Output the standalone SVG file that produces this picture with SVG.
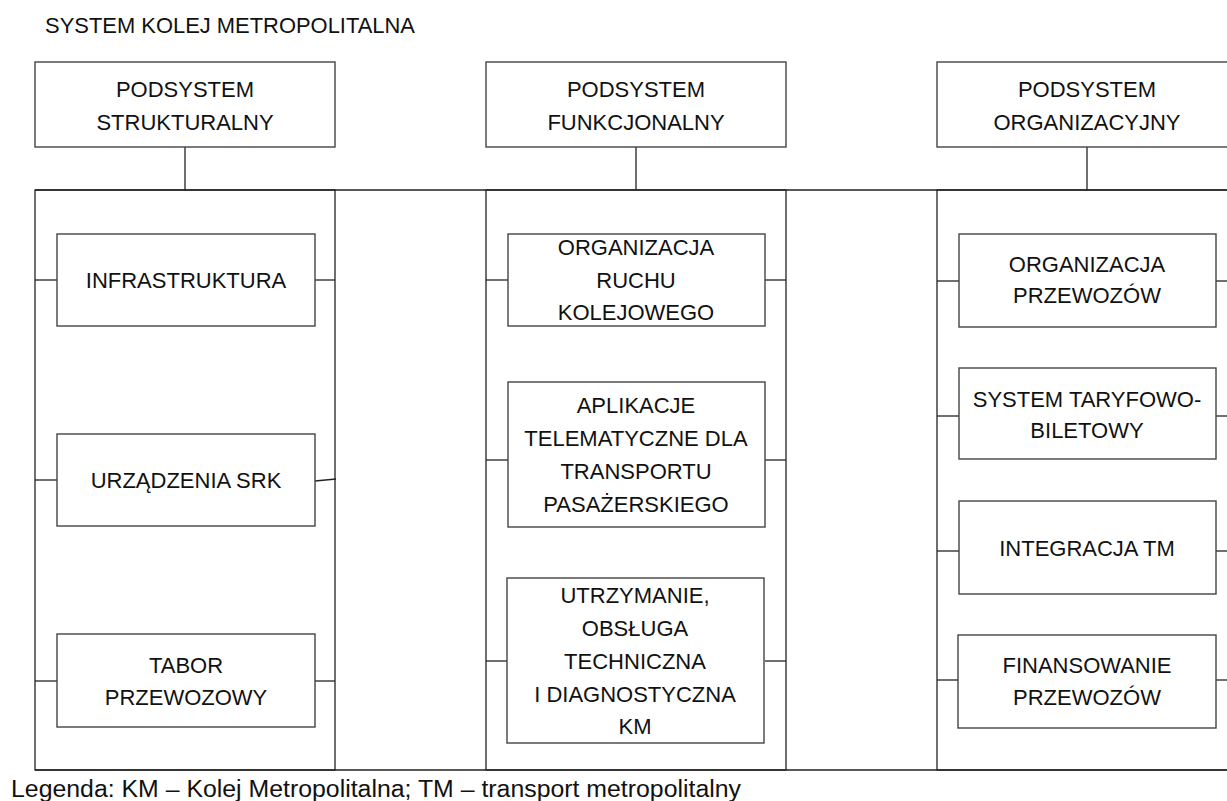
<svg xmlns="http://www.w3.org/2000/svg" width="1227" height="801" viewBox="0 0 1227 801">
  <style>
    text { font-family: "Liberation Sans", Arial, sans-serif; fill: #111; }
    .t { font-size: 22px; text-anchor: middle; }
    .title { font-size: 21.5px; }
    .legend { font-size: 23px; }
    .box { fill: #fff; stroke: #444; stroke-width: 1.4; }
    .col { fill: none; stroke: #222; stroke-width: 1.3; }
    .ln { fill: none; stroke: #222; stroke-width: 1.3; }
  </style>

  <rect width="1227" height="801" fill="#fff"/>

  <text class="title" x="45" y="33" textLength="370" lengthAdjust="spacingAndGlyphs">SYSTEM KOLEJ METROPOLITALNA</text>

  <!-- connectors: subsystem headers to columns, columns joined top and bottom, stubs to elements -->
  <g id="connectors">
    <line class="ln" x1="185" y1="147" x2="185" y2="190"/>
    <line class="ln" x1="636" y1="147" x2="636" y2="190"/>
    <line class="ln" x1="1087" y1="147" x2="1087" y2="190"/>
    <line class="ln" x1="35" y1="190" x2="1227" y2="190"/>
    <line class="ln" x1="35" y1="770" x2="1227" y2="770"/>

    <!-- structural column stubs -->
    <line class="ln" x1="35" y1="280" x2="57" y2="280"/>
    <line class="ln" x1="315" y1="280" x2="335" y2="280"/>
    <line class="ln" x1="35" y1="480" x2="57" y2="480"/>
    <line class="ln" x1="315" y1="481" x2="336" y2="479"/>
    <line class="ln" x1="35" y1="681" x2="57" y2="681"/>
    <line class="ln" x1="315" y1="681" x2="335" y2="681"/>

    <!-- functional column stubs -->
    <line class="ln" x1="486" y1="280" x2="508" y2="280"/>
    <line class="ln" x1="765" y1="280" x2="786" y2="280"/>
    <line class="ln" x1="486" y1="460" x2="508" y2="460"/>
    <line class="ln" x1="765" y1="460" x2="786" y2="460"/>
    <line class="ln" x1="486" y1="661" x2="507" y2="661"/>
    <line class="ln" x1="765" y1="661" x2="786" y2="661"/>

    <!-- organisational column stubs -->
    <line class="ln" x1="937" y1="281" x2="959" y2="281"/>
    <line class="ln" x1="1216" y1="281" x2="1227" y2="281"/>
    <line class="ln" x1="937" y1="416" x2="959" y2="416"/>
    <line class="ln" x1="1216" y1="416" x2="1227" y2="416"/>
    <line class="ln" x1="937" y1="551" x2="959" y2="551"/>
    <line class="ln" x1="1216" y1="551" x2="1227" y2="551"/>
    <line class="ln" x1="937" y1="680" x2="959" y2="680"/>
    <line class="ln" x1="1216" y1="680" x2="1227" y2="680"/>
  </g>

  <!-- column frames -->
  <g id="col-strukturalny"><rect class="col" x="35" y="190" width="300" height="580"/></g>
  <g id="col-funkcjonalny"><rect class="col" x="486" y="190" width="300" height="580"/></g>
  <g id="col-organizacyjny"><rect class="col" x="937" y="190" width="300" height="580"/></g>

  <!-- subsystem headers -->
  <g id="podsystem-strukturalny">
    <rect class="box" x="35" y="62" width="300" height="85"/>
    <text class="t" x="185" y="97">PODSYSTEM</text>
    <text class="t" x="185" y="130">STRUKTURALNY</text>
  </g>
  <g id="podsystem-funkcjonalny">
    <rect class="box" x="486" y="62" width="300" height="85"/>
    <text class="t" x="636" y="97">PODSYSTEM</text>
    <text class="t" x="636" y="130">FUNKCJONALNY</text>
  </g>
  <g id="podsystem-organizacyjny">
    <rect class="box" x="937" y="62" width="300" height="85"/>
    <text class="t" x="1087" y="97">PODSYSTEM</text>
    <text class="t" x="1087" y="130">ORGANIZACYJNY</text>
  </g>

  <!-- structural elements -->
  <g id="infrastruktura">
    <rect class="box" x="57" y="234" width="258" height="92"/>
    <text class="t" x="186" y="288">INFRASTRUKTURA</text>
  </g>
  <g id="urzadzenia-srk">
    <rect class="box" x="57" y="434" width="258" height="92"/>
    <text class="t" x="186" y="488">URZĄDZENIA SRK</text>
  </g>
  <g id="tabor-przewozowy">
    <rect class="box" x="57" y="634" width="258" height="93"/>
    <text class="t" x="186" y="673">TABOR</text>
    <text class="t" x="186" y="705">PRZEWOZOWY</text>
  </g>

  <!-- functional elements -->
  <g id="organizacja-ruchu">
    <rect class="box" x="508" y="234" width="257" height="92"/>
    <text class="t" x="636" y="255">ORGANIZACJA</text>
    <text class="t" x="636" y="288">RUCHU</text>
    <text class="t" x="636" y="320">KOLEJOWEGO</text>
  </g>
  <g id="aplikacje-telematyczne">
    <rect class="box" x="508" y="382" width="257" height="145"/>
    <text class="t" x="636" y="413">APLIKACJE</text>
    <text class="t" x="636" y="446">TELEMATYCZNE DLA</text>
    <text class="t" x="636" y="479">TRANSPORTU</text>
    <text class="t" x="636" y="512">PASAŻERSKIEGO</text>
  </g>
  <g id="utrzymanie">
    <rect class="box" x="507" y="578" width="257" height="165"/>
    <text class="t" x="635" y="603">UTRZYMANIE,</text>
    <text class="t" x="635" y="636">OBSŁUGA</text>
    <text class="t" x="635" y="669">TECHNICZNA</text>
    <text class="t" x="635" y="702">I DIAGNOSTYCZNA</text>
    <text class="t" x="635" y="734">KM</text>
  </g>

  <!-- organisational elements -->
  <g id="organizacja-przewozow">
    <rect class="box" x="959" y="234" width="257" height="93"/>
    <text class="t" x="1087" y="272">ORGANIZACJA</text>
    <text class="t" x="1087" y="303">PRZEWOZÓW</text>
  </g>
  <g id="system-taryfowo-biletowy">
    <rect class="box" x="959" y="368" width="257" height="91"/>
    <text class="t" x="1087" y="407">SYSTEM TARYFOWO-</text>
    <text class="t" x="1087" y="438">BILETOWY</text>
  </g>
  <g id="integracja-tm">
    <rect class="box" x="959" y="501" width="257" height="93"/>
    <text class="t" x="1087" y="556">INTEGRACJA TM</text>
  </g>
  <g id="finansowanie-przewozow">
    <rect class="box" x="958" y="635" width="258" height="93"/>
    <text class="t" x="1087" y="673">FINANSOWANIE</text>
    <text class="t" x="1087" y="705">PRZEWOZÓW</text>
  </g>

  <text class="legend" x="11" y="797" textLength="730" lengthAdjust="spacingAndGlyphs">Legenda: KM – Kolej Metropolitalna; TM – transport metropolitalny</text>
</svg>
